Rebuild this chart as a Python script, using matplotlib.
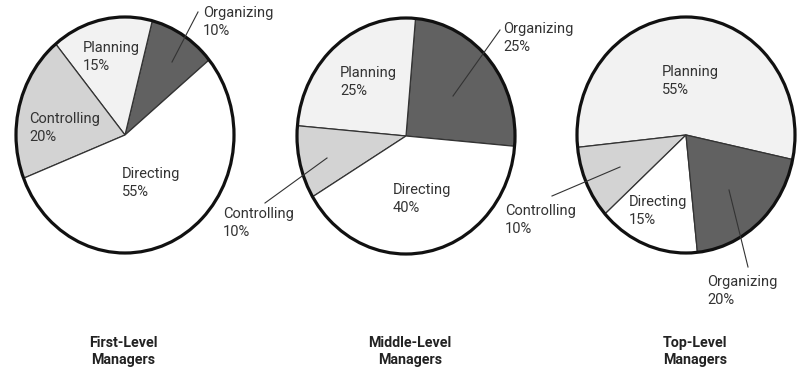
import matplotlib.pyplot as plt
from matplotlib.patches import Circle

# --- data ---
titles = ['First-Level\nManagers', 'Middle-Level\nManagers', 'Top-Level\nManagers']
first_labels = ['Organizing', 'Planning', 'Controlling', 'Directing']
first_values = [10, 15, 20, 55]
middle_labels = ['Organizing', 'Planning', 'Controlling', 'Directing']
middle_values = [25, 25, 10, 40]
top_labels = ['Planning', 'Controlling', 'Directing', 'Organizing']
top_values = [55, 10, 15, 20]

colores = {'Organizing': '#616161', 'Planning': '#f2f2f2',
           'Controlling': '#d3d3d3', 'Directing': '#ffffff'}

W, H = 805, 376
fig = plt.figure(figsize=(W / 100, H / 100), dpi=100)
plt.rcParams['font.family'] = ['Roboto', 'DejaVu Sans']

# centro (px), angulo inicial, posicion de etiquetas, lineas guia
pies = [
    dict(labels=first_labels, values=first_values, c=(125, 135), start=39.5,
         pos={'Organizing': (203, 6), 'Planning': (83, 41),
              'Controlling': (29, 112), 'Directing': (122, 167)},
         guides={'Organizing': ((172, 62), (198, 12))}),
    dict(labels=middle_labels, values=middle_values, c=(406, 136), start=-5,
         pos={'Organizing': (503, 22), 'Planning': (340, 66),
              'Controlling': (223, 207), 'Directing': (393, 183)},
         guides={'Organizing': ((453, 96), (500, 30)),
                 'Controlling': ((327, 158), (265, 203))}),
    dict(labels=top_labels, values=top_values, c=(686, 135), start=-12,
         pos={'Planning': (662, 65), 'Controlling': (505, 204),
              'Directing': (629, 195), 'Organizing': (707, 275)},
         guides={'Controlling': ((620, 167), (552, 196)),
                 'Organizing': ((729, 190), (748, 267))}),
]
rx, ry = 109, 118
title_x = [123, 410, 695]

for p in pies:
    cx, cy = p['c']
    ax = fig.add_axes([(cx - rx) / W, 1 - (cy + ry) / H, 2 * rx / W, 2 * ry / H])
    ax.pie(p['values'], colors=[colores[l] for l in p['labels']],
           startangle=p['start'], counterclock=True, radius=1,
           wedgeprops=dict(edgecolor='#333333', linewidth=0.9))
    ax.set_aspect('auto')
    ax.set_xlim(-1, 1)
    ax.set_ylim(-1, 1)
    ax.add_patch(Circle((0, 0), 1, fill=False, lw=2.3, ec='#111111', clip_on=False))

# capa de textos en pixeles
top = fig.add_axes([0, 0, 1, 1])
top.set_xlim(0, W)
top.set_ylim(H, 0)
top.axis('off')

for p in pies:
    for l, v in zip(p['labels'], p['values']):
        x, y = p['pos'][l]
        top.text(x, y, f'{l}\n{v}%', ha='left', va='top', fontsize=10.5,
                 color='#333333', linespacing=1.38)
    for (x0, y0), (x1, y1) in p['guides'].values():
        top.plot([x0, x1], [y0, y1], color='#333333', lw=0.8)

for t, x in zip(titles, title_x):
    top.text(x, 336, t, ha='center', va='top', fontsize=10.3, fontweight='bold',
             color='#222222', linespacing=1.3)

plt.savefig('out.png', dpi=100)
